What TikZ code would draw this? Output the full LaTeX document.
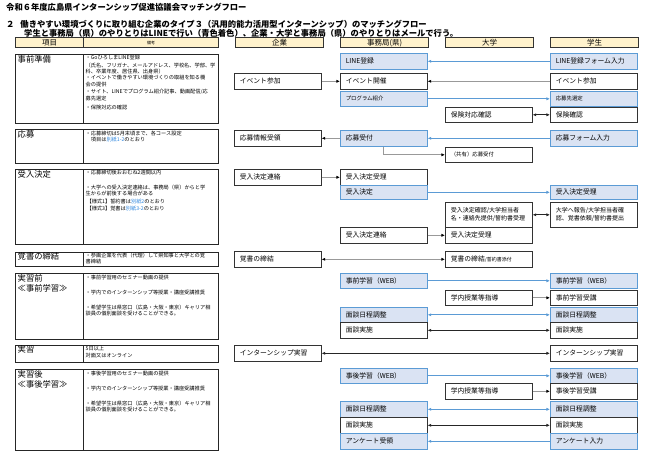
\documentclass[tikz,border=0pt]{standalone}
\usepackage{fontspec}
\setmainfont{Noto Sans CJK JP}
\usetikzlibrary{arrows.meta}

\definecolor{lineblue}{HTML}{5B9BD5}
\definecolor{boxblue}{HTML}{DAE3F3}
\definecolor{headfill}{HTML}{FFF2CC}
\definecolor{linkblue}{HTML}{2E86DE}

\tikzset{
  titletext/.style={anchor=west, inner sep=0, font=\bfseries\fontsize{8.3}{9}\selectfont},
  headbox/.style={draw=black!80, line width=1.2pt, fill=headfill, anchor=north west,
    minimum width=88, minimum height=10, inner sep=0, font=\fontsize{7.5}{8}\selectfont},
  itemframe/.style={draw=black!85, line width=1.3pt, anchor=north west, minimum width=68, inner sep=0},
  noteframe/.style={itemframe, minimum width=135},
  itemtext/.style={anchor=north west, inner xsep=2.5, inner ysep=1.2, align=left,
    font=\fontsize{8.3}{10}\selectfont},
  notetext/.style={anchor=north west, inner xsep=2.5, inner ysep=1.4, align=left,
    font=\fontsize{5.2}{6.3}\selectfont},
  flowbox/.style={draw=black!80, line width=0.6pt, fill=white, anchor=north west,
    minimum height=16, text width=76, inner xsep=5.5, inner ysep=0, align=left,
    font=\fontsize{6.8}{8}\selectfont},
  linebox/.style={flowbox, draw=lineblue, fill=boxblue},
  smalltext/.style={font=\fontsize{5.4}{7}\selectfont},
  twoline/.style={font=\fontsize{6}{8}\selectfont, minimum height=25},
  link/.style={draw=black!40, line width=0.7pt, -{Latex[length=3.6pt,width=3.2pt,color=black]}},
  twolink/.style={draw=black!40, line width=0.7pt,
    {Latex[length=3.6pt,width=3.2pt,color=black]}-{Latex[length=3.6pt,width=3.2pt,color=black]}},
  darklink/.style={draw=black!85, line width=0.7pt,
    {Latex[length=3.6pt,width=3.2pt]}-{Latex[length=3.6pt,width=3.2pt]}},
  bluelink/.style={draw=lineblue, line width=0.7pt, -{Latex[length=3.6pt,width=3.2pt]}},
  twobluelink/.style={draw=lineblue, line width=0.7pt,
    {Latex[length=3.6pt,width=3.2pt]}-{Latex[length=3.6pt,width=3.2pt]}}
}

\begin{document}
\begin{tikzpicture}[x=1pt, y=-1pt]
    \useasboundingbox (0,0) rectangle (650,459);

    % Titles
    \node[titletext] (title) at (6,7) {令和６年度広島県インターンシップ促進協議会マッチングフロー};
    \node[titletext] (type) at (6,24) {２\hspace{6pt}働きやすい環境づくりに取り組む企業のタイプ３（汎用的能力活用型インターンシップ）のマッチングフロー};
    \node[titletext] (rule) at (24,33) {学生と事務局（県）のやりとりはLINEで行い（青色着色）、企業・大学と事務局（県）のやりとりはメールで行う。};

    % Headers
    \node[headbox, minimum width=68] (hItem) at (15,37) {項目};
    \node[headbox, minimum width=135, font=\fontsize{4}{5}\selectfont] (hNote) at (83,37) {備考};
    \node[headbox] (hFirm) at (235,37) {企業};
    \node[headbox] (hOffice) at (340,37) {事務局(県)};
    \node[headbox] (hUniv) at (445,37) {大学};
    \node[headbox] (hStudent) at (550,37) {学生};

    % Left table
    \node[itemframe, minimum height=69] (prep) at (15,54) {};
    \node[noteframe, minimum height=69] (prepNote) at (83,54) {};
    \node[itemtext] (prepT) at (prep.north west) {事前準備};
    \node[notetext] (prepNoteT) at (prepNote.north west) {・GoひろしまLINE登録\\[1pt]
      （氏名、フリガナ、メールアドレス、学校名、学部、学\\科、卒業年度、居住県、出身県）\\
      ・イベントで働きやすい環境づくりの取組を知る機\\会の提供\\[1.5pt]
      ・サイト、LINEでプログラム紹介記事、動画配信/応\\募先選定\\[2.5pt]
      ・保険対応の確認};

    \node[itemframe, minimum height=34] (apply) at (15,129) {};
    \node[noteframe, minimum height=34] (applyNote) at (83,129) {};
    \node[itemtext] (applyT) at (apply.north west) {応募};
    \node[notetext] (applyNoteT) at (applyNote.north west) {・応募締切は5月末頃まで、各コース設定\\
      　項目は\textcolor{linkblue}{別紙1-2}のとおり};

    \node[itemframe, minimum height=75] (accept) at (15,169) {};
    \node[noteframe, minimum height=75] (acceptNote) at (83,169) {};
    \node[itemtext] (acceptT) at (accept.north west) {受入決定};
    \node[notetext] (acceptNoteT) at (acceptNote.north west) {・応募締切後おおむね2週間以内\\[8pt]
      ・大学への受入決定連絡は、事務局（県）からと学\\生からが前後する場合がある\\[2pt]
      \,【様式1】誓約書は\textcolor{linkblue}{別紙2}のとおり\\
      \,【様式3】覚書は\textcolor{linkblue}{別紙3-2}のとおり};

    \node[itemframe, minimum height=14] (memo) at (15,252) {};
    \node[noteframe, minimum height=14] (memoNote) at (83,252) {};
    \node[itemtext, inner ysep=0.6] (memoT) at (memo.north west) {覚書の締結};
    \node[notetext, inner ysep=0.6] (memoNoteT) at (memoNote.north west) {・参画企業を代表（代理）して県知事と大学との覚\\書締結};

    \node[itemframe, minimum height=66] (before) at (15,273) {};
    \node[noteframe, minimum height=66] (beforeNote) at (83,273) {};
    \node[itemtext] (beforeT) at (before.north west) {実習前\\≪事前学習≫};
    \node[notetext] (beforeNoteT) at (beforeNote.north west) {・事前学習用のセミナー動画の提供\\[9pt]
      ・学内でのインターンシップ等授業・講座受講推奨\\[9pt]
      ・希望学生は県窓口（広島・大阪・東京）キャリア相\\談員の個別面談を受けることができる。};

    \node[itemframe, minimum height=17] (intern) at (15,345) {};
    \node[noteframe, minimum height=17] (internNote) at (83,345) {};
    \node[itemtext, inner ysep=0.6] (internT) at (intern.north west) {実習};
    \node[notetext, inner ysep=0.8] (internNoteT) at (internNote.north west) {5日以上\\[1pt]対面又はオンライン};

    \node[itemframe, minimum height=81] (after) at (15,369) {};
    \node[noteframe, minimum height=81] (afterNote) at (83,369) {};
    \node[itemtext] (afterT) at (after.north west) {実習後\\≪事後学習≫};
    \node[notetext] (afterNoteT) at (afterNote.north west) {・事後学習用のセミナー動画の提供\\[9pt]
      ・学内でのインターンシップ等授業・講座受講推奨\\[9pt]
      ・希望学生は県窓口（広島・大阪・東京）キャリア相\\談員の個別面談を受けることができる。};

    % Flow: preparation
    \node[linebox] (j1) at (340,53) {LINE登録};
    \node[linebox] (s1) at (550,53) {LINE登録フォーム入力};
    \node[flowbox] (k2) at (234,73) {イベント参加};
    \node[flowbox] (j2) at (340,73) {イベント開催};
    \node[flowbox] (s2) at (550,73) {イベント参加};
    \node[linebox, smalltext, minimum height=15] (j3) at (340,91) {プログラム紹介};
    \node[linebox, smalltext, minimum height=15] (s3) at (550,91) {応募先選定};
    \node[flowbox, minimum height=15] (d4) at (445,107) {保険対応確認};
    \node[flowbox, minimum height=15] (s4) at (550,107) {保険確認};

    % Flow: application
    \node[flowbox] (k5) at (234,130) {応募情報受領};
    \node[linebox] (j5) at (340,130) {応募受付};
    \node[linebox] (s5) at (550,130) {応募フォーム入力};
    \node[flowbox, smalltext, minimum height=15] (d6) at (445,147) {（共有）応募受付};

    % Flow: acceptance
    \node[flowbox] (k7) at (234,169) {受入決定連絡};
    \node[flowbox] (j7) at (340,169) {受入決定受理};
    \node[linebox, minimum height=14] (j8) at (340,185) {受入決定};
    \node[linebox, minimum height=14] (s8) at (550,185) {受入決定受理};
    \node[flowbox, twoline] (d9) at (445,202) {受入決定確認/大学担当者\\名・連絡先提供/誓約書受理};
    \node[flowbox, twoline] (s9) at (550,202) {大学へ報告/大学担当者確\\認、覚書依頼/誓約書提出};
    \node[flowbox] (j10) at (340,227) {受入決定連絡};
    \node[flowbox] (d10) at (445,227) {受入決定受理};

    % Flow: memorandum
    \node[flowbox] (k11) at (234,251) {覚書の締結};
    \node[flowbox] (d11) at (445,251) {覚書の締結{\fontsize{5}{6}\selectfont /誓約書添付}};

    % Flow: before internship
    \node[linebox, minimum height=15] (j12) at (340,273) {事前学習（WEB）};
    \node[linebox, minimum height=15] (s12) at (550,273) {事前学習（WEB）};
    \node[flowbox, minimum height=15] (d13) at (445,290) {学内授業等指導};
    \node[flowbox, minimum height=15] (s13) at (550,290) {事前学習受講};
    \node[linebox, minimum height=15] (j14) at (340,307) {面談日程調整};
    \node[linebox, minimum height=15] (s14) at (550,307) {面談日程調整};
    \node[flowbox] (j15) at (340,322) {面談実施};
    \node[flowbox] (s15) at (550,322) {面談実施};

    % Flow: internship
    \node[flowbox] (k16) at (234,345) {インターンシップ実習};
    \node[flowbox] (s16) at (550,345) {インターンシップ実習};

    % Flow: after internship
    \node[linebox, minimum height=15] (j17) at (340,368) {事後学習（WEB）};
    \node[linebox, minimum height=15] (s17) at (550,368) {事後学習（WEB）};
    \node[flowbox] (d18) at (445,383) {学内授業等指導};
    \node[flowbox] (s18) at (550,383) {事後学習受講};
    \node[linebox] (j19) at (340,401) {面談日程調整};
    \node[linebox] (s19) at (550,401) {面談日程調整};
    \node[flowbox] (j20) at (340,417) {面談実施};
    \node[flowbox] (s20) at (550,417) {面談実施};
    \node[linebox] (j21) at (340,433) {アンケート受領};
    \node[linebox] (s21) at (550,433) {アンケート入力};

    % Arrows
    \draw[bluelink] (s1) -- (j1);
    \draw[link] (k2) -- (j2);
    \draw[link] (s2) -- (j2);
    \draw[bluelink] (j3) -- (s3);
    \draw[darklink] (d4) -- (s4);
    \draw[link] (j5) -- (k5);
    \draw[bluelink] (s5) -- (j5);
    \draw[link] (j5.south) |- (d6.west);
    \draw[link] (k7) -- (j7);
    \draw[bluelink] (j8) -- (s8);
    \draw[darklink] (d9) -- (s9);
    \draw[link] (j10) -- (d10);
    \draw[twolink] (k11) -- (d11);
    \draw[bluelink] (j12) -- (s12);
    \draw[link] (d13) -- (s13);
    \draw[twobluelink] (j14) -- (s14);
    \draw[darklink] (j15) -- (s15);
    \draw[darklink] (k16) -- (s16);
    \draw[bluelink] (j17) -- (s17);
    \draw[link] (d18) -- (s18);
    \draw[twobluelink] (j19) -- (s19);
    \draw[darklink] (j20) -- (s20);
    \draw[bluelink] (s21) -- (j21);
\end{tikzpicture}
\end{document}
